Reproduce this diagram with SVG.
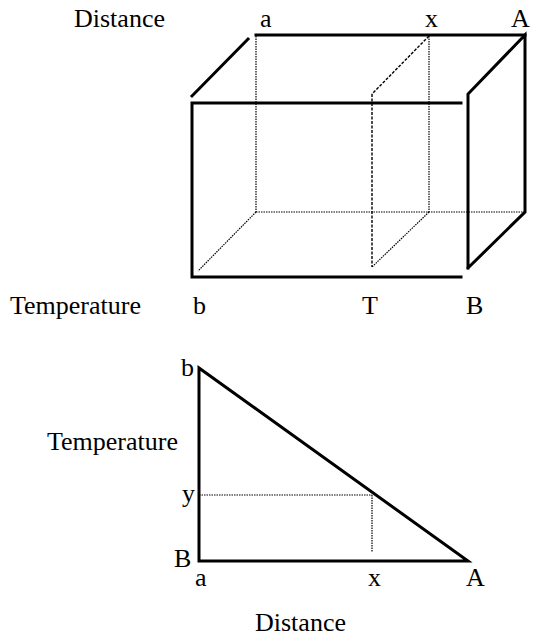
<svg xmlns="http://www.w3.org/2000/svg" width="548" height="638" viewBox="0 0 548 638">
<style>
.t{font-family:"Liberation Serif","Times New Roman",serif;font-size:26px;fill:#000}
.b{stroke:#000;stroke-width:3;fill:none;stroke-linecap:square}
.d{stroke:#000;stroke-width:1.2;fill:none;stroke-dasharray:1.5 1}
.ds{stroke:#000;stroke-width:1.4;fill:none;stroke-dasharray:3 1.5}
</style>
<rect width="548" height="638" fill="#fff"/>
<g id="box">
<line class="d" x1="256" y1="36" x2="256" y2="212"/>
<line class="d" x1="256" y1="212" x2="525" y2="212"/>
<line class="d" x1="256" y1="212" x2="198" y2="271"/>
<line class="d" x1="429" y1="36" x2="429" y2="212"/>
<line class="d" x1="429" y1="212" x2="372" y2="267"/>
<line class="ds" x1="372" y1="94" x2="372" y2="267"/>
<line class="ds" x1="429" y1="36" x2="372" y2="94"/>
<line class="b" x1="256" y1="35" x2="525" y2="35"/>
<line class="b" x1="192" y1="96" x2="248" y2="39"/>
<polyline class="b" points="461,103 192,103 192,277 461,277"/>
<polyline class="b" points="468,268 468,94 525,35 525,212 468,268"/>
</g>
<g id="triangle">
<polygon class="b" points="199,368 199,561 468,561" stroke-linejoin="miter"/>
<line class="d" x1="199" y1="495" x2="372" y2="495"/>
<line class="d" x1="372" y1="495" x2="372" y2="552"/>
</g>
<g id="labels">
<text class="t" x="74" y="27">Distance</text>
<text class="t" x="260" y="27">a</text>
<text class="t" x="425" y="27">x</text>
<text class="t" x="511" y="27">A</text>
<text class="t" x="10" y="314">Temperature</text>
<text class="t" x="193" y="314">b</text>
<text class="t" x="362" y="314">T</text>
<text class="t" x="466" y="314">B</text>
<text class="t" x="181" y="376">b</text>
<text class="t" x="47" y="450">Temperature</text>
<text class="t" x="182" y="502">y</text>
<text class="t" x="174" y="567">B</text>
<text class="t" x="195" y="586">a</text>
<text class="t" x="368" y="586">x</text>
<text class="t" x="466" y="586">A</text>
<text class="t" x="255" y="631">Distance</text>
</g>
</svg>
